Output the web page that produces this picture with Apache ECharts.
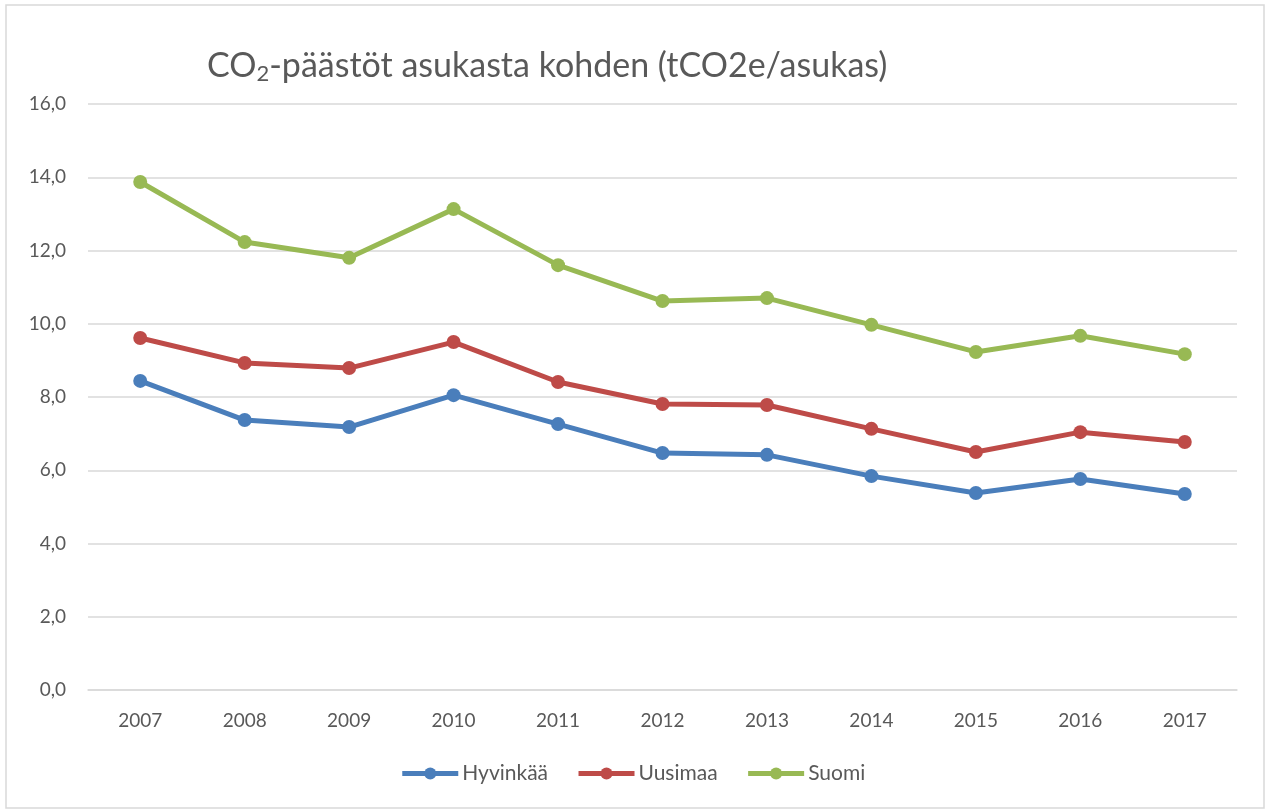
<!DOCTYPE html>
<html><head><meta charset="utf-8">
<script src="https://cdn.jsdelivr.net/npm/echarts@6/dist/echarts.min.js"></script>
<style>html,body{margin:0;padding:0;background:#fff}#c{width:1265px;height:809px}</style>
</head><body><div id="c"></div>
<script>
const years = ['2007','2008','2009','2010','2011','2012','2013','2014','2015','2016','2017'];
const hyvinkaa = [8.44,7.37,7.18,8.05,7.26,6.47,6.42,5.84,5.38,5.76,5.35];
const uusimaa = [9.61,8.93,8.79,9.50,8.41,7.81,7.78,7.13,6.50,7.04,6.77];
const suomi = [13.87,12.23,11.80,13.13,11.60,10.62,10.70,9.97,9.23,9.67,9.17];
const seriesNames = ['Hyvinkää','Uusimaa','Suomi'];
const colors = ['#4a7ebb','#be4b48','#98b954'];
const FONT = 'Lato';
const chart = echarts.init(document.getElementById('c'));
const mk = (name, data, i) => ({
  name, type:'line', data, symbol:'circle', symbolSize:14,
  lineStyle:{width:5,color:colors[i]}, itemStyle:{color:colors[i]}
});
chart.setOption({
  animation:false,
  graphic:[{type:'rect',shape:{x:6,y:5,width:1258,height:803},style:{fill:'none',stroke:'#d9d9d9',lineWidth:1.5}}],
  title:{
    text:'{a|CO}{s|2}{a|-päästöt asukasta kohden (tCO2e/asukas)}',
    left:202, top:42,
    textStyle:{fontWeight:'normal',rich:{
      a:{fontFamily:FONT,fontSize:34,fontWeight:'normal',color:'#595959'},
      s:{fontFamily:FONT,fontSize:22,fontWeight:'normal',color:'#595959',padding:[16,0,0,0]}
    }}
  },
  legend:{
    bottom:20, left:'center', itemWidth:56, itemHeight:15, itemGap:28,
    lineStyle:{width:5},
    textStyle:{fontFamily:FONT,fontSize:21,color:'#595959',padding:[0,0,0,-1]},
    data:seriesNames
  },
  grid:{left:88,right:28,top:104,bottom:119},
  xAxis:{type:'category',data:years,boundaryGap:true,
    axisLine:{lineStyle:{color:'#d9d9d9',width:1.5}},axisTick:{show:false},
    axisLabel:{fontFamily:FONT,fontSize:19,color:'#595959',margin:21}},
  yAxis:{type:'value',min:0,max:16,interval:2,
    axisLine:{show:false},axisTick:{show:false},
    splitLine:{lineStyle:{color:'#d9d9d9',width:1.5}},
    axisLabel:{fontFamily:FONT,fontSize:19,color:'#595959',margin:22,
      formatter:v=>v.toFixed(1).replace('.',',')}},
  series:[mk(seriesNames[0],hyvinkaa,0),mk(seriesNames[1],uusimaa,1),mk(seriesNames[2],suomi,2)]
});
</script></body></html>
